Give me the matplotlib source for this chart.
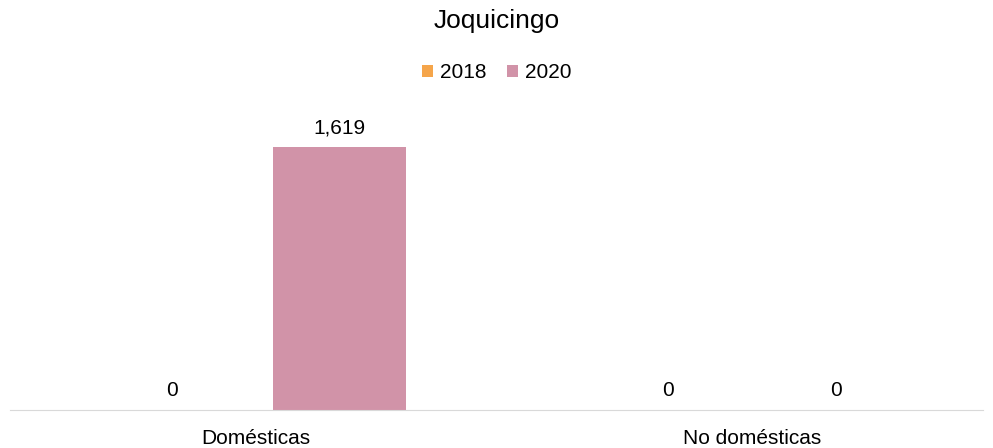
import numpy as np
import matplotlib.pyplot as plt

plt.rcParams["font.family"] = ["Liberation Sans", "DejaVu Sans"]

categories = ["Domésticas", "No domésticas"]
years = ["2018", "2020"]
values_2018 = [0, 0]
values_2020 = [1619, 0]
colors = ["#F5A54A", "#D193A8"]

fig = plt.figure(figsize=(9.93, 4.48), dpi=100)
ax = fig.add_axes([10 / 993, 38 / 448, 973 / 993, 310 / 448])

x = np.arange(len(categories))
w = 0.268
off = 0.169
b1 = ax.bar(x - off, values_2018, w, color=colors[0], label=years[0])
b2 = ax.bar(x + off, values_2020, w, color=colors[1], label=years[1])

for bars in (b1, b2):
    for rect in bars:
        h = rect.get_height()
        ax.annotate(f"{h:,.0f}", (rect.get_x() + rect.get_width() / 2, h),
                    xytext=(0, 7), textcoords="offset points",
                    ha="center", va="bottom", fontsize=15, color="#000000")

ax.set_xlim(-0.495, 1.465)
ax.set_ylim(0, 1908)
ax.set_xticks(x)
ax.set_xticklabels(categories, fontsize=15)
ax.tick_params(axis="x", length=0, pad=14)
ax.set_yticks([])
for s in ["top", "right", "left"]:
    ax.spines[s].set_visible(False)
ax.spines["bottom"].set_color("#D9D9D9")

fig.text(0.5, 1 - 21 / 448, "Joquicingo", ha="center", va="center", fontsize=19)
fig.legend(handles=[b1, b2], labels=years, loc="center", bbox_to_anchor=(0.5, 1 - 73 / 448),
           ncol=2, frameon=False, fontsize=15, handlelength=0.55, handleheight=0.55,
           handletextpad=0.3, columnspacing=1.0)

fig.savefig("out.png", dpi=100)
